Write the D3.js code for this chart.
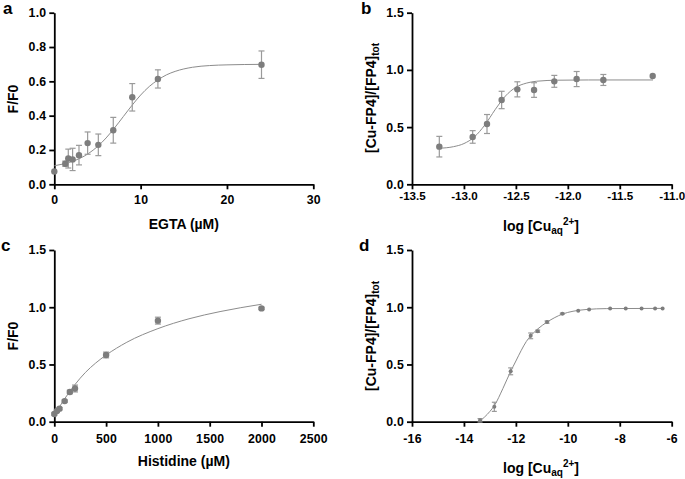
<!DOCTYPE html>
<html lang="en">
<head>
<meta charset="utf-8">
<script src="https://cdn.jsdelivr.net/npm/d3@7"></script>
<style>
  body { margin:0; padding:0; background:#fff; }
  svg { font-family: "Liberation Sans", Arial, sans-serif; font-weight: bold; }
  .axis path, .axis line { stroke:#000; stroke-width:1.8px; }
  .axis text { font-size:12.3px; letter-spacing:0.2px; font-weight:bold; fill:#000; font-family:"Liberation Sans", Arial, sans-serif; }
  .axis.tight text { font-size:11.6px; letter-spacing:0; }
  .lab { font-size:14px; }
  .plab { font-size:17px; }
</style>
</head>
<body>
<svg id="chart" width="685" height="479"></svg>
<script>
// ---- panel a : EGTA
var aX   = [0, 1.27, 1.62, 2.12, 2.86, 3.86, 5.1, 6.83, 9.03, 12.0, 24.0];
var aY   = [0.075, 0.12, 0.15, 0.145, 0.17, 0.24, 0.23, 0.315, 0.507, 0.614, 0.697];
var aErr = [0, 0.015, 0.055, 0.065, 0.057, 0.065, 0.063, 0.075, 0.08, 0.053, 0.08];
var aFitX = [0, 1, 2, 3, 4, 5, 6, 7, 8, 9, 10, 11, 12, 13, 14, 16, 18, 20, 24];
var aFitY = [0.108, 0.118, 0.132, 0.152, 0.181, 0.22, 0.27, 0.33, 0.395, 0.46, 0.52, 0.57, 0.608, 0.638, 0.658, 0.682, 0.692, 0.696, 0.699];
var aXTicks = [0, 10, 20, 30];
var aYTicks = [0, 0.2, 0.4, 0.6, 0.8, 1.0];

// ---- panel b : log [Cu2+] (EGTA buffer)
var bX   = [-13.237, -12.916, -12.778, -12.637, -12.486, -12.325, -12.13, -11.915, -11.658, -11.183];
var bY   = [0.329, 0.414, 0.527, 0.737, 0.83, 0.824, 0.90, 0.92, 0.912, 0.947];
var bErr = [0.09, 0.055, 0.083, 0.076, 0.066, 0.064, 0.052, 0.066, 0.048, 0];
var bFitX = [-13.24, -13.1, -13.0, -12.9, -12.8, -12.7, -12.6, -12.5, -12.4, -12.3, -12.1, -11.8, -11.18];
var bFitY = [0.315, 0.329, 0.356, 0.414, 0.517, 0.652, 0.772, 0.848, 0.884, 0.901, 0.910, 0.912, 0.912];
var bXTicks = [-13.5, -13.0, -12.5, -12.0, -11.5, -11.0];
var bYTicks = [0, 0.5, 1.0, 1.5];

// ---- panel c : Histidine
var cX   = [0, 25, 50, 100, 150, 200, 500, 1000, 2000];
var cY   = [0.067, 0.093, 0.114, 0.18, 0.26, 0.29, 0.583, 0.883, 0.99];
var cErr = [0.01, 0.01, 0.01, 0.01, 0.015, 0.03, 0.025, 0.03, 0.01];
var cFitX = [0, 50, 100, 200, 300, 400, 500, 700, 1000, 1300, 1600, 2000];
var cFitY = [0.06, 0.13, 0.2, 0.325, 0.43, 0.513, 0.582, 0.694, 0.813, 0.899, 0.962, 1.026];
var cXTicks = [0, 500, 1000, 1500, 2000, 2500];
var cYTicks = [0, 0.5, 1.0, 1.5];

// ---- panel d : log [Cu2+] (histidine buffer)
var dX   = [-13.38, -12.83, -12.2, -11.43, -11.16, -10.8, -10.21, -9.6, -9.18, -8.37, -7.77, -7.16, -6.64, -6.35];
var dY   = [0.012, 0.13, 0.44, 0.75, 0.79, 0.87, 0.944, 0.97, 0.98, 0.99, 0.99, 0.99, 0.99, 0.99];
var dErr = [0.015, 0.04, 0.03, 0.025, 0.01, 0.01, 0.005, 0, 0, 0, 0, 0, 0, 0];
var dFitX = [-13.41, -13.0, -12.83, -12.5, -12.2, -12.0, -11.8, -11.6, -11.43, -11.16, -10.8, -10.5, -10.21, -9.8, -9.3, -8.5, -6.35];
var dFitY = [0.0, 0.09, 0.14, 0.29, 0.44, 0.53, 0.62, 0.70, 0.75, 0.81, 0.87, 0.91, 0.94, 0.965, 0.98, 0.988, 0.99];
var dXTicks = [-16, -14, -12, -10, -8, -6];
var dYTicks = [0, 0.5, 1.0, 1.5];

var svg = d3.select("#chart");
var ptCol = "#7d7d7d", errCol = "#9a9a9a", fitCol = "#8c8c8c";

function panel(o){
  var g = svg.append("g");
  var x = d3.scaleLinear().domain(o.xd).range([o.l, o.r]);
  var y = d3.scaleLinear().domain(o.yd).range([o.b, o.t]);

  g.append("g").attr("class","axis" + (o.tight ? " tight" : "")).attr("transform","translate(0,"+o.b+")")
    .call(d3.axisBottom(x).tickValues(o.xt).tickSize(5).tickSizeOuter(0).tickPadding(o.xpad).tickFormat(o.xf));
  g.append("g").attr("class","axis").attr("transform","translate("+o.l+",0)")
    .call(d3.axisLeft(y).tickValues(o.yt).tickSize(5).tickSizeOuter(0).tickPadding(3).tickFormat(function(d){return d.toFixed(1);}));

  // fit curve
  var pts = o.fx.map(function(v,i){return [v, o.fy[i]];});
  g.append("path").datum(pts)
    .attr("fill","none").attr("stroke",fitCol).attr("stroke-width",1)
    .attr("d", d3.line().x(function(d){return x(d[0]);}).y(function(d){return y(d[1]);}).curve(d3.curveMonotoneX));

  // error bars
  var data = o.px.map(function(v,i){return {x:v, y:o.py[i], e:o.pe[i]};});
  var eb = g.append("g").attr("stroke",errCol).attr("stroke-width",1.2)
    .selectAll("g").data(data.filter(function(d){return d.e > 0.004;})).enter().append("g");
  eb.append("line").attr("x1",function(d){return x(d.x);}).attr("x2",function(d){return x(d.x);})
    .attr("y1",function(d){return y(d.y-d.e);}).attr("y2",function(d){return y(d.y+d.e);});
  [1,-1].forEach(function(s){
    eb.append("line").attr("x1",function(d){return x(d.x)-o.cap;}).attr("x2",function(d){return x(d.x)+o.cap;})
      .attr("y1",function(d){return y(d.y+s*d.e);}).attr("y2",function(d){return y(d.y+s*d.e);});
  });
  g.append("g").selectAll("circle").data(data).enter().append("circle")
    .attr("cx",function(d){return x(d.x);}).attr("cy",function(d){return y(d.y);})
    .attr("r",o.rad).attr("fill",ptCol);

  // panel letter
  g.append("text").attr("class","plab").attr("x",o.lx).attr("y",o.ly).text(o.letter);
  return g;
}

var fx0 = function(d){return String(d);};
var fx1 = function(d){return d.toFixed(1);};

panel({l:54.3,r:313.3,t:12.7,b:184.3,xd:[0,30],yd:[0,1],xt:aXTicks,yt:aYTicks,xf:fx0,xpad:5.5,
  px:aX,py:aY,pe:aErr,fx:aFitX,fy:aFitY,cap:3,rad:3.2,letter:"a",lx:3,ly:14});
panel({l:412,r:671.7,t:12.7,b:184.3,xd:[-13.5,-11],yd:[0,1.5],xt:bXTicks,yt:bYTicks,xf:fx1,xpad:2,tight:true,
  px:bX,py:bY,pe:bErr,fx:bFitX,fy:bFitY,cap:3,rad:3.2,letter:"b",lx:361,ly:14});
panel({l:54.3,r:313.3,t:250,b:421.7,xd:[0,2500],yd:[0,1.5],xt:cXTicks,yt:cYTicks,xf:fx0,xpad:8,
  px:cX,py:cY,pe:cErr,fx:cFitX,fy:cFitY,cap:3,rad:3.2,letter:"c",lx:1,ly:251});
panel({l:412,r:671.7,t:250,b:421.7,xd:[-16,-6],yd:[0,1.5],xt:dXTicks,yt:dYTicks,xf:fx0,xpad:8,
  px:dX,py:dY,pe:dErr,fx:dFitX,fy:dFitY,cap:2.5,rad:2,letter:"d",lx:359,ly:251});

// axis titles
function xlab(x, y, txt){ svg.append("text").attr("class","lab").attr("x",x).attr("y",y).attr("text-anchor","middle").text(txt); }
function ylab(x, y, txt){ svg.append("text").attr("class","lab").attr("transform","translate("+x+","+y+") rotate(-90)").attr("text-anchor","middle").text(txt); }
function cuLab(x, y){
  var t = svg.append("text").attr("class","lab").attr("x",x).attr("y",y).attr("text-anchor","middle");
  t.append("tspan").text("log [Cu");
  t.append("tspan").attr("font-size","10px").attr("dy",3).text("aq");
  t.append("tspan").attr("font-size","10px").attr("dy",-9.5).text("2+");
  t.append("tspan").attr("dy",6.5).text("]");
}
function fpLab(x, y){
  var t = svg.append("text").attr("class","lab").attr("transform","translate("+x+","+y+") rotate(-90)").attr("text-anchor","middle");
  t.append("tspan").text("[Cu-FP4]/[FP4]");
  t.append("tspan").attr("font-size","10px").attr("dy",3).text("tot");
}
xlab(183.8, 229, "EGTA (\u00b5M)");
xlab(183.8, 465.5, "Histidine (\u00b5M)");
ylab(18, 99, "F/F0");
ylab(18, 336, "F/F0");
cuLab(541, 231);
cuLab(541, 473);
fpLab(376, 98);
fpLab(376, 336);
</script>
</body>
</html>
